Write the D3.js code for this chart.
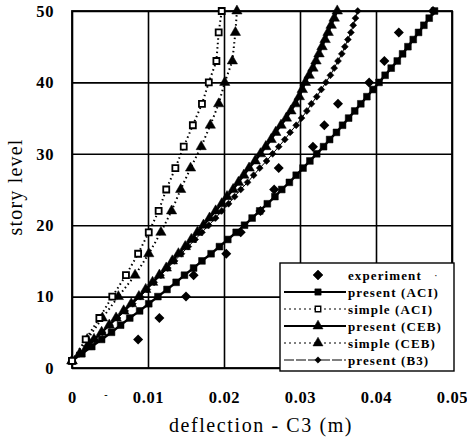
<!DOCTYPE html>
<html lang="en">
<head>
<meta charset="UTF-8">
<title>story level vs deflection</title>
<script src="https://d3js.org/d3.v7.min.js"></script>
<style>
  body { margin: 0; background: #fff; }
  text { font-family: "Liberation Serif", "DejaVu Serif", serif; fill: #000; }
</style>
</head>
<body>
<script>
// story levels for the dense "present" curves
var storyLevels = [1,2,3,4,5,6,7,8,9,10,11,12,13,14,15,16,17,18,19,20,
  21,22,23,24,25,26,27,28,29,30,31,32,33,34,35,36,37,38,39,40,
  41,42,43,44,45,46,47,48,49,50];

var presentACI = [0,0.0013,0.0026,0.0039,0.0052,0.0064,0.0076,0.0089,0.0101,0.0113,
  0.0125,0.0137,0.0148,0.0160,0.0171,0.0183,0.0194,0.0205,0.0216,0.0227,
  0.0237,0.0247,0.0257,0.0267,0.0276,0.0286,0.0295,0.0304,0.0313,0.0322,
  0.0331,0.0339,0.0348,0.0356,0.0364,0.0372,0.0380,0.0388,0.0396,0.0404,
  0.0412,0.0420,0.0428,0.0435,0.0442,0.0449,0.0456,0.0463,0.0470,0.0477];

var presentCEB = [0,0.0010,0.0020,0.0029,0.0039,0.0049,0.0058,0.0068,0.0078,0.0088,
  0.0097,0.0106,0.0115,0.0124,0.0132,0.0140,0.0149,0.0157,0.0165,0.0173,
  0.0181,0.0189,0.0197,0.0204,0.0212,0.0219,0.0226,0.0233,0.0241,0.0248,
  0.0255,0.0262,0.0268,0.0275,0.0282,0.0288,0.0294,0.0299,0.0303,0.0307,
  0.0312,0.0317,0.0321,0.0325,0.0329,0.0333,0.0337,0.0341,0.0345,0.0349];

var presentB3 = [0,0.0010,0.0020,0.0030,0.0040,0.0050,0.0060,0.0070,0.0080,0.0090,
  0.0099,0.0108,0.0117,0.0126,0.0135,0.0144,0.0153,0.0162,0.0171,0.0180,
  0.0189,0.0197,0.0206,0.0214,0.0222,0.0231,0.0239,0.0247,0.0256,0.0264,
  0.0272,0.0280,0.0287,0.0295,0.0302,0.0309,0.0315,0.0322,0.0328,0.0334,
  0.0340,0.0345,0.0350,0.0355,0.0359,0.0363,0.0367,0.0370,0.0373,0.0376];

// simplified methods, marked every third story
var simpleLevels = [1,4,7,10,13,16,19,22,25,28,31,34,37,40,43,47,50];
var simpleACI = [0,0.0018,0.0036,0.0053,0.0071,0.0087,0.0101,0.0114,0.0124,0.0136,
  0.0147,0.0159,0.0171,0.0180,0.0190,0.0193,0.0197];
var simpleCEB = [0,0.0020,0.0040,0.0061,0.0083,0.0101,0.0117,0.0131,0.0143,0.0156,
  0.0170,0.0182,0.0193,0.0201,0.0211,0.0215,0.0217];

// measured values
var expLevels = [4,7,10,13,16,19,22,25,28,31,34,37,40,43,47,50];
var experiment = [0.0087,0.0115,0.0150,0.0160,0.0203,0.0222,0.0248,0.0266,0.0272,
  0.0317,0.0332,0.0350,0.0391,0.0411,0.0430,0.0475];

var xTicks = [0,0.01,0.02,0.03,0.04,0.05];
var xTickLabels = ["0","0.01","0.02","0.03","0.04","0.05"];
var yTicks = [0,10,20,30,40,50];
var legendLabels = ["experiment","present (ACI)","simple (ACI)","present (CEB)","simple (CEB)","present (B3)"];

var W = 467, H = 441;
var pL = 72, pT = 11, pR = 452, pB = 368;

var svg = d3.select("body").append("svg")
  .attr("width", W).attr("height", H);

var x = d3.scaleLinear().domain([0, 0.05]).range([pL, pR]);
var y = d3.scaleLinear().domain([0, 50]).range([pB, pT]);

// grid + tick labels
var gx = svg.append("g").attr("transform", "translate(0," + pB + ")")
  .call(d3.axisBottom(x).tickValues(xTicks)
    .tickFormat(function(d, i) { return xTickLabels[i]; })
    .tickSize(-(pB - pT)).tickPadding(23));
var gy = svg.append("g").attr("transform", "translate(" + pL + ",0)")
  .call(d3.axisLeft(y).tickValues(yTicks).tickSize(-(pR - pL)).tickPadding(18));

[gx, gy].forEach(function(g) {
  g.select(".domain").remove();
  g.selectAll("line").attr("stroke", "#000").attr("stroke-width", 1.6);
  g.selectAll("text").style("font-family", "'Liberation Serif', serif")
    .style("font-size", "16.5px").style("font-weight", "bold").style("letter-spacing", "0.6px");
});

svg.append("rect")
  .attr("x", pL).attr("y", pT)
  .attr("width", pR - pL).attr("height", pB - pT)
  .attr("fill", "none").attr("stroke", "#000").attr("stroke-width", 1.8);

// stray mark under the axis in the scan
svg.append("text").attr("x", 106).attr("y", 398).attr("text-anchor", "middle")
  .style("font-size", "10px").style("font-weight", "bold").text("-");

// axis titles
svg.append("text")
  .attr("x", 261).attr("y", 432).attr("text-anchor", "middle")
  .style("font-size", "20px").style("letter-spacing", "1.6px")
  .text("deflection - C3 (m)");
svg.append("text")
  .attr("transform", "translate(22,187) rotate(-90)")
  .attr("text-anchor", "middle")
  .style("font-size", "20px").style("letter-spacing", "1.2px")
  .text("story level");

function pts(xs, ls) {
  return xs.map(function(v, i) { return [v, ls[i]]; });
}

var line = d3.line().x(function(d) { return x(d[0]); }).y(function(d) { return y(d[1]); });

var series = [
  { data: pts(presentB3, storyLevels), width: 1, dash: null, sym: d3.symbolSquare, size: 24, rot: 45, fill: "#000" },
  { data: pts(presentCEB, storyLevels), width: 2.4, dash: null, sym: d3.symbolTriangle, size: 48, rot: 0, fill: "#000" },
  { data: pts(presentACI, storyLevels), width: 2.4, dash: null, sym: d3.symbolSquare, size: 46, rot: 0, fill: "#000" },
  { data: pts(simpleCEB, simpleLevels), width: 2, dash: "1.5,3", sym: d3.symbolTriangle, size: 46, rot: 0, fill: "#000" },
  { data: pts(simpleACI, simpleLevels), width: 2, dash: "1.5,3", sym: d3.symbolSquare, size: 36, rot: 0, fill: "#fff" }
];

series.forEach(function(s) {
  svg.append("path").datum(s.data)
    .attr("d", line).attr("fill", "none")
    .attr("stroke", "#000").attr("stroke-width", s.width)
    .attr("stroke-dasharray", s.dash);
  svg.append("g").selectAll("path").data(s.data).enter().append("path")
    .attr("d", d3.symbol().type(s.sym).size(s.size))
    .attr("transform", function(d) { return "translate(" + x(d[0]) + "," + y(d[1]) + ") rotate(" + s.rot + ")"; })
    .attr("fill", s.fill).attr("stroke", "#000").attr("stroke-width", s.fill === "#fff" ? 1.8 : 0.5);
});

// experiment diamonds, no line
svg.append("g").selectAll("path").data(pts(experiment, expLevels)).enter().append("path")
  .attr("d", d3.symbol().type(d3.symbolSquare).size(50))
  .attr("transform", function(d) { return "translate(" + x(d[0]) + "," + y(d[1]) + ") rotate(45)"; })
  .attr("fill", "#000");

// legend
var lg = svg.append("g");
lg.append("rect").attr("x", 280).attr("y", 263).attr("width", 174).attr("height", 108)
  .attr("fill", "#fff").attr("stroke", "#000").attr("stroke-width", 1.4);

var legendStyle = [
  { line: false, dash: null, width: 0, sym: d3.symbolSquare, size: 50, rot: 45, fill: "#000" },
  { line: true, dash: null, width: 2, sym: d3.symbolSquare, size: 40, rot: 0, fill: "#000" },
  { line: true, dash: "2,3", width: 1.2, sym: d3.symbolSquare, size: 30, rot: 0, fill: "#fff" },
  { line: true, dash: null, width: 2, sym: d3.symbolTriangle, size: 44, rot: 0, fill: "#000" },
  { line: true, dash: "2,3", width: 1.2, sym: d3.symbolTriangle, size: 44, rot: 0, fill: "#000" },
  { line: true, dash: "10,2", width: 1, sym: d3.symbolSquare, size: 20, rot: 45, fill: "#000" }
];

legendLabels.forEach(function(lab, i) {
  var cy = 275 + i * 17;
  var st = legendStyle[i];
  if (st.line) {
    lg.append("line").attr("x1", 284).attr("x2", 346).attr("y1", cy).attr("y2", cy)
      .attr("stroke", "#000").attr("stroke-width", st.width).attr("stroke-dasharray", st.dash);
  }
  lg.append("path")
    .attr("d", d3.symbol().type(st.sym).size(st.size))
    .attr("transform", "translate(318," + cy + ") rotate(" + st.rot + ")")
    .attr("fill", st.fill).attr("stroke", "#000").attr("stroke-width", st.fill === "#fff" ? 1.4 : 0.5);
  lg.append("text").attr("x", 348).attr("y", cy + 4.5)
    .style("font-size", "13px").style("font-weight", "bold").style("letter-spacing", "1.1px")
    .text(lab);
});
lg.append("text").attr("x", 434).attr("y", 279).style("font-size", "11px").text("·");
</script>
</body>
</html>
